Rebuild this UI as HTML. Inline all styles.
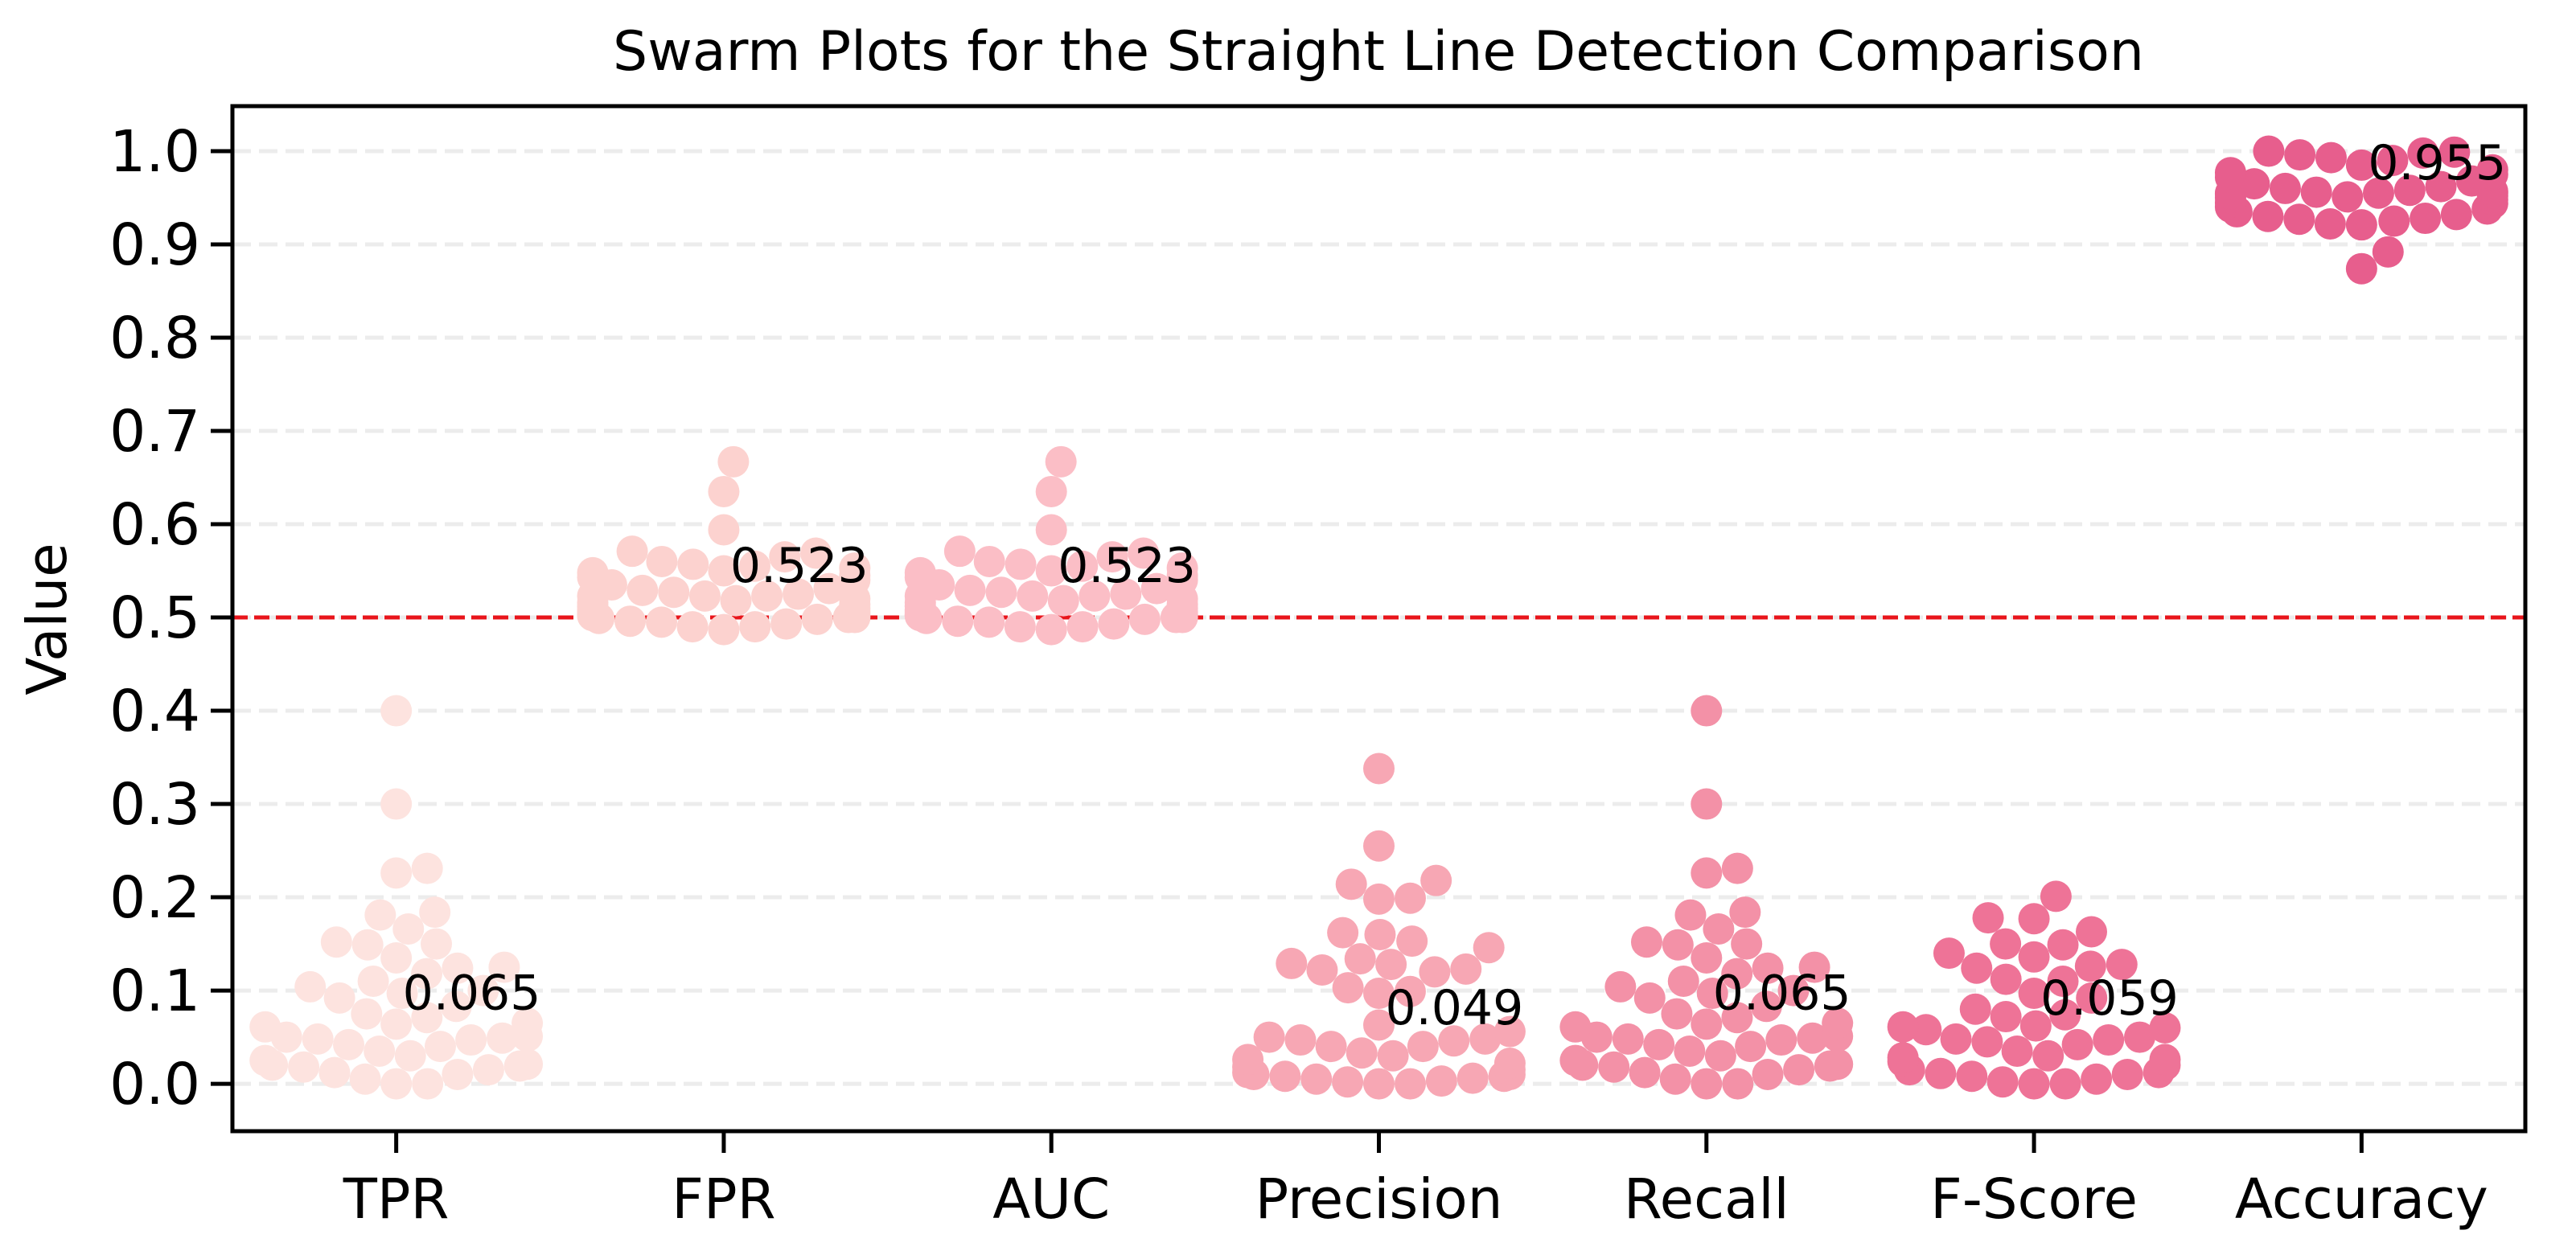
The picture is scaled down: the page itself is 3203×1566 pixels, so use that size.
<!DOCTYPE html>
<html><head><meta charset="utf-8">
<style>
html,body{margin:0;padding:0;background:#fff;}
svg{display:block;font-family:"DejaVu Sans","Liberation Sans",sans-serif;}
</style></head>
<body>
<svg id="chart" width="3203" height="1566" viewBox="0 0 3203 1566" xmlns="http://www.w3.org/2000/svg">
<rect x="0" y="0" width="3203" height="1566" fill="#fff"/>
<text x="1714" y="87" font-size="68" text-anchor="middle" fill="#000">Swarm Plots for the Straight Line Detection Comparison</text>
<text x="0" y="0" font-size="69" text-anchor="middle" fill="#000" transform="translate(82,770) rotate(-90)">Value</text>
<g id="grid"></g><g id="marks"></g><g id="labels"></g><g id="axes"></g>
</svg>
<script>
const categories = ["TPR","FPR","AUC","Precision","Recall","F-Score","Accuracy"];
const tprValues = [0.400,0.300,0.231,0.226,0.184,0.181,0.166,0.152,0.150,0.149,0.135,0.125,0.124,0.118,0.110,0.104,0.100,0.097,0.092,0.083,0.075,0.071,0.065,0.064,0.061,0.051,0.050,0.049,0.048,0.047,0.042,0.040,0.035,0.030,0.025,0.021,0.020,0.019,0.018,0.015,0.012,0.010,0.005,0.000,0.000];
const fprValues = [0.667,0.635,0.594,0.571,0.569,0.565,0.560,0.557,0.555,0.553,0.550,0.548,0.545,0.543,0.540,0.535,0.531,0.529,0.527,0.525,0.523,0.523,0.523,0.520,0.518,0.516,0.514,0.512,0.510,0.508,0.505,0.503,0.502,0.500,0.500,0.499,0.498,0.496,0.495,0.493,0.490,0.490,0.487,0.502,0.506];
const aucValues = [0.667,0.635,0.594,0.571,0.569,0.565,0.560,0.557,0.555,0.553,0.550,0.548,0.545,0.543,0.540,0.535,0.531,0.529,0.527,0.525,0.523,0.523,0.523,0.520,0.518,0.516,0.514,0.512,0.510,0.508,0.505,0.503,0.502,0.500,0.500,0.499,0.498,0.496,0.495,0.493,0.490,0.490,0.487,0.502,0.506];
const precisionValues = [0.338,0.255,0.218,0.214,0.199,0.198,0.162,0.160,0.153,0.146,0.134,0.129,0.128,0.123,0.122,0.120,0.103,0.099,0.097,0.063,0.050,0.048,0.047,0.046,0.040,0.040,0.033,0.030,0.026,0.022,0.018,0.015,0.012,0.010,0.010,0.008,0.008,0.006,0.005,0.003,0.002,0.000,0.000,0.056];
const recallValues = [0.400,0.300,0.231,0.226,0.184,0.181,0.166,0.152,0.150,0.149,0.135,0.125,0.124,0.118,0.110,0.104,0.100,0.097,0.092,0.083,0.075,0.071,0.065,0.064,0.061,0.051,0.050,0.049,0.048,0.047,0.042,0.040,0.035,0.030,0.025,0.021,0.020,0.019,0.018,0.015,0.012,0.010,0.005,0.000,0.000];
const fscoreValues = [0.201,0.178,0.177,0.163,0.150,0.149,0.140,0.136,0.128,0.126,0.124,0.112,0.110,0.097,0.092,0.080,0.074,0.072,0.062,0.061,0.060,0.058,0.050,0.048,0.047,0.045,0.042,0.035,0.030,0.028,0.026,0.024,0.020,0.015,0.012,0.011,0.010,0.008,0.005,0.002,0.000,0.000];
const accuracyValues = [1.000,0.999,0.998,0.996,0.993,0.990,0.985,0.980,0.977,0.975,0.972,0.968,0.965,0.962,0.960,0.958,0.957,0.956,0.955,0.955,0.955,0.954,0.952,0.951,0.950,0.948,0.945,0.944,0.940,0.938,0.935,0.932,0.930,0.928,0.927,0.925,0.922,0.921,0.892,0.874];
const yTicks = [0.0,0.1,0.2,0.3,0.4,0.5,0.6,0.7,0.8,0.9,1.0];
const yTickLabels = ["0.0","0.1","0.2","0.3","0.4","0.5","0.6","0.7","0.8","0.9","1.0"];
const thresholdValue = 0.5;
const palette = ["#fde3df","#fcd2cf","#fbbec6","#f7a7b4","#f391a7","#ee7397","#e75e8d"];

const allSeries = [tprValues,fprValues,aucValues,precisionValues,recallValues,fscoreValues,accuracyValues];
const NS = "http://www.w3.org/2000/svg";
const L = 289, R = 3140, T = 132, B = 1407;
const yMin = -0.0508, yMax = 1.0483;
const y = v => B - (v - yMin) / (yMax - yMin) * (B - T);
const band = (R - L) / categories.length;
const x = i => L + band * (i + 0.5);
function mk(tag, attrs, parent){ const e = document.createElementNS(NS, tag); for (const k in attrs) e.setAttribute(k, attrs[k]); parent.appendChild(e); return e; }
const grid = document.getElementById('grid'), marks = document.getElementById('marks'), labels = document.getElementById('labels'), axes = document.getElementById('axes');

yTicks.forEach((t, i) => {
  const g = mk('line', {x1: L, x2: R, y1: y(t), y2: y(t), stroke: '#ececec', 'stroke-width': 5, 'stroke-dasharray': '23 10'}, grid);
  
  
  const tk = mk('line', {x1: L - 27, x2: L, y1: y(t), y2: y(t), stroke: '#000', 'stroke-width': 5}, axes);
  
  
  const tl = mk('text', {x: L - 40, y: y(t) + 25, 'font-size': 71, 'text-anchor': 'end', fill: '#000'}, axes);
  tl.textContent = yTickLabels[i];
  
  
});

const thr = mk('line', {x1: L, x2: R, y1: y(thresholdValue), y2: y(thresholdValue), stroke: '#e8151b', 'stroke-width': 5, 'stroke-dasharray': '19 8'}, marks);



const rad = 19.5, D = 2 * rad, halfW = band * 0.4;
function swarm(vals){
  const pts = vals.map(v => ({v, py: y(v)})).sort((a, b) => a.v - b.v);
  const placed = [];
  pts.forEach(p => {
    const near = placed.filter(q => Math.abs(q.py - p.py) < D);
    const cands = [0];
    near.forEach(q => { const dx = Math.sqrt(D * D - (q.py - p.py) ** 2); cands.push(q.dx + dx, q.dx - dx); });
    cands.sort((a, b) => Math.abs(a) - Math.abs(b));
    let best = 0;
    for (const c of cands) {
      if (near.every(q => (q.dx - c) ** 2 + (q.py - p.py) ** 2 >= D * D - 0.01)) { best = c; break; }
    }
    p.dx = best; placed.push(p);
  });
  placed.forEach(p => { if (p.dx > halfW) p.dx = halfW; if (p.dx < -halfW) p.dx = -halfW; });
  return placed;
}
function median(a){ const s = [...a].sort((p, q) => p - q); const n = s.length; return n % 2 ? s[(n - 1) / 2] : (s[n / 2 - 1] + s[n / 2]) / 2; }

allSeries.forEach((vals, i) => {
  const g = mk('g', {}, marks);
  
  
  swarm(vals).forEach(p => {
    const c = mk('circle', {cx: x(i) + p.dx, cy: p.py, r: rad, fill: palette[i]}, g);
    
    
  });
  const m = median(vals);
  const lab = mk('text', {x: x(i) + 8, y: y(m + 0.015), 'font-size': 60, fill: '#000'}, labels);
  lab.textContent = m.toFixed(3);
  
  
  const tk = mk('line', {x1: x(i), x2: x(i), y1: B, y2: B + 27, stroke: '#000', 'stroke-width': 5}, axes);
  
  
  const xl = mk('text', {x: x(i), y: 1515, 'font-size': 69, 'text-anchor': 'middle', fill: '#000'}, axes);
  xl.textContent = categories[i];
  
  
});

const frame = mk('rect', {x: L, y: T, width: R - L, height: B - T, fill: 'none', stroke: '#000', 'stroke-width': 5}, axes);


</script>
</body></html>
